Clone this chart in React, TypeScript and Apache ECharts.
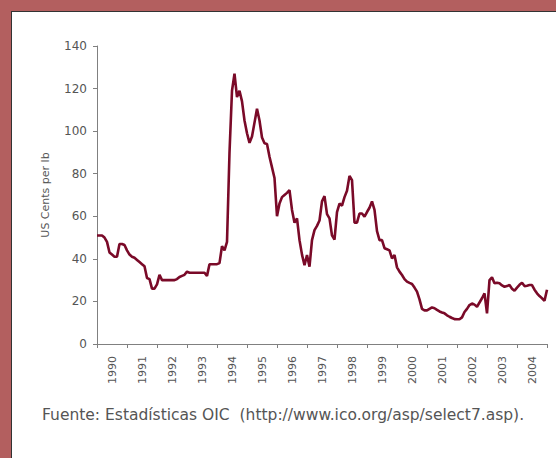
import React, { useEffect, useRef } from 'react';
import * as echarts from 'echarts';

const YEARS = ['1990', '1991', '1992', '1993', '1994', '1995', '1996', '1997', '1998', '1999', '2000', '2001', '2002', '2003', '2004'];

// Monthly prices (US cents per lb)
const P1990 = [51, 51, 51, 50, 48, 43, 42, 41, 41, 47, 47, 46.5];
const P1991 = [44, 42, 41, 40.5, 39.5, 38.5, 37.5, 36.5, 31, 30.5, 26, 26];
const P1992 = [28, 32.5, 30, 30, 30, 30, 30, 30, 30.5, 31.5, 32, 32.5];
const P1993 = [34, 33.5, 33.5, 33.5, 33.5, 33.5, 33.5, 33.5, 32, 37.5, 37.5, 37.5];
const P1994 = [37.5, 38, 46, 44, 48, 90, 119, 127, 116, 119, 114, 105];
const P1995 = [99, 94.5, 97.5, 104, 110.5, 105, 97, 94.3, 94, 88, 83, 78];
const P1996 = [60, 66, 69, 70, 71, 72.3, 63, 57, 59, 48.8, 42, 37];
const P1997 = [41.8, 36.3, 48.8, 53.5, 55.5, 58, 67, 69.5, 61, 59, 51, 49];
const P1998 = [62, 66, 65, 69, 72, 79, 77, 57, 57, 61.3, 61.3, 59.8];
const P1999 = [62, 64, 67, 63, 53, 48.8, 48.8, 45, 44.5, 44, 40.2, 41.8];
const P2000 = [36, 34, 32.4, 30.5, 29.3, 28.7, 28.2, 26.5, 24.6, 21, 16.5, 15.8];
const P2001 = [15.8, 16.5, 17.2, 16.8, 16, 15.3, 14.8, 14.4, 13.5, 12.8, 12.2, 11.7];
const P2002 = [11.6, 11.6, 12.5, 15, 16.5, 18.3, 19, 18.5, 17.5, 19.5, 21.5, 23.8];
const P2003 = [14.4, 30, 31.3, 28.5, 28.8, 28.5, 27.5, 26.9, 27.2, 27.7, 26, 25];
const P2004 = [26.5, 27.8, 28.8, 27.2, 27.4, 27.7, 27.7, 25.5, 23.8, 22.5, 21.5, 20.3, 25.5];

const PRICES = [
  ...P1990, ...P1991, ...P1992, ...P1993, ...P1994, ...P1995, ...P1996, ...P1997,
  ...P1998, ...P1999, ...P2000, ...P2001, ...P2002, ...P2003, ...P2004,
];

const Y_TITLE = 'US Cents per lb';
const SOURCE = 'Fuente: Estadísticas OIC  (http://www.ico.org/asp/select7.asp).';

const FONT = "'DejaVu Sans', sans-serif";

export default function App() {
  const ref = useRef<HTMLDivElement>(null);

  useEffect(() => {
    if (!ref.current) return;
    const chart = echarts.init(ref.current, null, { renderer: 'svg' });
    const months = PRICES.map((_, i) => `${1990 + Math.floor(i / 12)}-${(i % 12) + 1}`);
    chart.setOption({
      animation: false,
      grid: { left: 97, right: 9, top: 46, bottom: 114, containLabel: false },
      xAxis: [
        {
          type: 'category',
          data: YEARS,
          boundaryGap: true,
          axisLine: { lineStyle: { color: '#808080', width: 1 } },
          axisTick: { show: true, length: 4, interval: 0, lineStyle: { color: '#808080' } },
          axisLabel: { rotate: 90, interval: 0, fontSize: 11, color: '#555', margin: 12, fontFamily: FONT },
          splitLine: { show: false },
        },
        {
          type: 'category',
          data: months,
          boundaryGap: false,
          show: false,
        },
      ],
      yAxis: {
        type: 'value',
        min: 0,
        max: 140,
        interval: 20,
        name: Y_TITLE,
        nameLocation: 'middle',
        nameRotate: 90,
        nameGap: 46,
        nameTextStyle: { fontSize: 11, color: '#555', fontFamily: FONT },
        axisLine: { show: true, lineStyle: { color: '#808080', width: 1 } },
        axisTick: { show: true, length: 4, lineStyle: { color: '#808080' } },
        axisLabel: { fontSize: 12, color: '#555', margin: 10, fontFamily: FONT },
        splitLine: { show: false },
      },
      series: [
        {
          type: 'line',
          xAxisIndex: 1,
          data: PRICES,
          showSymbol: false,
          symbol: 'none',
          lineStyle: { width: 2.6, color: '#7a0a28' },
          itemStyle: { color: '#7a0a28' },
        },
      ],
      graphic: [
        {
          type: 'text',
          left: 42,
          top: 407,
          style: { text: SOURCE, fontSize: 15.5, fill: '#555', fontFamily: FONT },
        },
      ],
    });
    return () => chart.dispose();
  }, []);

  return (
    <div style={{ position: 'fixed', left: 0, top: 0, width: 556, height: 458, background: '#b35f5f' }}>
      <div
        style={{
          position: 'absolute',
          left: 11,
          top: 11,
          right: 0,
          bottom: 0,
          background: '#ffffff',
          borderLeft: '1px solid #333',
          borderTop: '1px solid #333',
        }}
      />
      <div ref={ref} style={{ position: 'absolute', left: 0, top: 0, width: 556, height: 458 }} />
    </div>
  );
}
